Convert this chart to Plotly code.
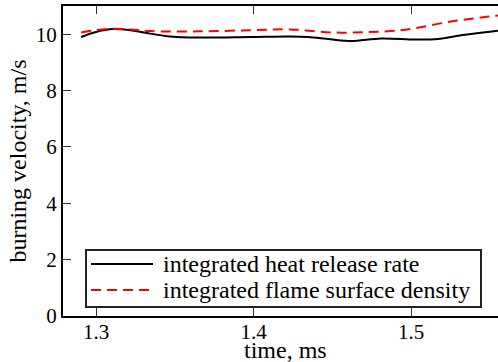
import plotly.graph_objects as go

# burning velocity estimates over time (ms -> m/s)
time_hrr = [1.2905, 1.2994, 1.3108, 1.3216, 1.3343, 1.3451, 1.366, 1.3978, 1.4232,
            1.4346, 1.4486, 1.4619, 1.481, 1.5025, 1.5152, 1.5343, 1.5552]
vel_hrr = [9.90, 10.07, 10.18, 10.14, 10.02, 9.93, 9.88, 9.90, 9.92,
           9.90, 9.82, 9.76, 9.85, 9.81, 9.82, 9.98, 10.12]

time_fsd = [1.2905, 1.2994, 1.3108, 1.3216, 1.3343, 1.366, 1.3978, 1.4232, 1.4492,
            1.4708, 1.4873, 1.5025, 1.5235, 1.5444, 1.5552]
vel_fsd = [10.06, 10.14, 10.19, 10.17, 10.11, 10.10, 10.14, 10.17, 10.06,
           10.07, 10.11, 10.21, 10.43, 10.59, 10.66]

labels = ["integrated heat release rate", "integrated flame surface density"]
x_title = "time, ms"
y_title = "burning velocity, m/s"
x_ticks = [1.3, 1.4, 1.5]
y_ticks = [0, 2, 4, 6, 8, 10]

FONT = "Liberation Serif, Times New Roman, serif"
TICK_FONT = dict(family=FONT, size=21, color="black")
TEXT_FONT = dict(family=FONT, size=24, color="black")

fig = go.Figure()
fig.add_trace(go.Scatter(x=time_hrr, y=vel_hrr, mode="lines", name=labels[0],
                         line=dict(color="black", width=2, shape="spline", smoothing=1.0),
                         showlegend=False))
fig.add_trace(go.Scatter(x=time_fsd, y=vel_fsd, mode="lines", name=labels[1],
                         line=dict(color="#ff0000", width=2, dash="10px,6px",
                                   shape="spline", smoothing=1.0),
                         showlegend=False))

W, H = 498, 362
L, R, T, B = 63, 0, 6, 46
pw, ph = W - L - R, H - T - B


def px_x(p):
    return (p - L) / pw


def px_y(p):
    return (H - B - p) / ph


# legend box drawn in paper coordinates
fig.add_shape(type="rect", xref="paper", yref="paper",
              x0=px_x(86), x1=px_x(481), y0=px_y(307), y1=px_y(250),
              line=dict(color="#222222", width=2), fillcolor="white", layer="above")
legend_rows = [(264, dict(color="black", width=2)),
               (290, dict(color="#ff0000", width=2, dash="10px,6px"))]
for (ypix, lstyle), text in zip(legend_rows, labels):
    fig.add_shape(type="line", xref="paper", yref="paper",
                  x0=px_x(91), x1=px_x(153), y0=px_y(ypix), y1=px_y(ypix),
                  line=lstyle, layer="above")
    fig.add_annotation(xref="paper", yref="paper", x=px_x(161), y=px_y(ypix),
                       text=text, showarrow=False, xanchor="left", yanchor="middle",
                       font=TEXT_FONT)

# x-axis title placed below the tick labels
fig.add_annotation(xref="paper", yref="paper", x=px_x(285), y=px_y(350),
                   text=x_title, showarrow=False, xanchor="center", yanchor="middle",
                   font=TEXT_FONT)

fig.update_xaxes(range=[1.279, 1.5552], tickvals=x_ticks, ticktext=[str(v) for v in x_ticks],
                 ticks="inside", ticklen=8, tickwidth=1, tickcolor="#333333",
                 showline=True, linewidth=2, linecolor="black", mirror="ticks",
                 showgrid=False, zeroline=False, automargin=False,
                 tickfont=TICK_FONT, ticklabelstandoff=-4)
fig.update_yaxes(range=[0, 11], tickvals=y_ticks,
                 ticks="inside", ticklen=8, tickwidth=1, tickcolor="#333333",
                 showline=True, linewidth=2, linecolor="black",
                 showgrid=False, zeroline=False, automargin=False,
                 tickfont=TICK_FONT,
                 title=dict(text=y_title, font=TEXT_FONT, standoff=2))

fig.update_layout(width=W, height=H, margin=dict(l=L, r=R, t=T, b=B, pad=0),
                  paper_bgcolor="white", plot_bgcolor="white", showlegend=False)

fig.write_html("out.html")
